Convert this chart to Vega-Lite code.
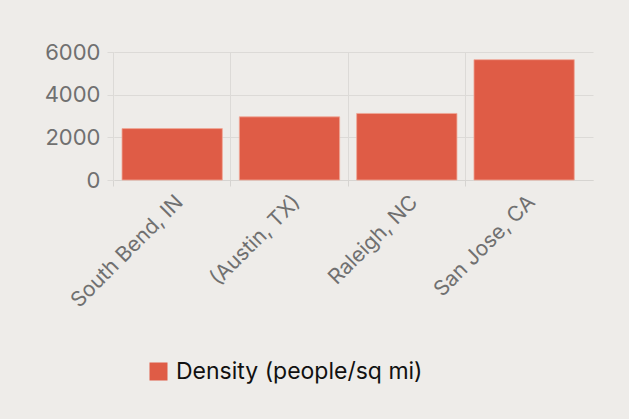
{
  "$schema": "https://vega.github.io/schema/vega-lite/v6.json",
  "autosize": "none",
  "width": 479,
  "height": 128,
  "padding": {"left": 114, "top": 52, "right": 36, "bottom": 239},
  "background": "#eeece9",
  "data": {"values": [
    {"city": "South Bend, IN", "density": 2410},
    {"city": "(Austin, TX)", "density": 2960},
    {"city": "Raleigh, NC", "density": 3120},
    {"city": "San Jose, CA", "density": 5640}
  ]},
  "mark": {"type": "bar", "color": "#df5c46", "stroke": "#f0a898", "strokeWidth": 0.8},
  "encoding": {
    "x": {
      "field": "city", "type": "nominal", "sort": null, "title": null,
      "scale": {"paddingInner": 0.145, "paddingOuter": 0.114, "align": 0.3},
      "axis": {"labelAngle": -45, "labelFontSize": 21, "labelColor": "#707070", "labelFont": "Inter",
        "bandPosition": -0.085, "grid": true, "gridColor": "#dcdad7", "tickColor": "#d6d4d1", "tickSize": 6,
        "domainColor": "#d6d4d1", "labelPadding": 5, "labelLimit": 0}
    },
    "y": {
      "field": "density", "type": "quantitative", "title": null,
      "scale": {"domain": [0, 6000]},
      "axis": {"values": [0, 2000, 4000, 6000], "format": "d", "labelFontSize": 22, "labelColor": "#707070", "labelFont": "Inter",
        "domain": false, "gridColor": "#dcdad7", "tickColor": "#dcdad7", "tickSize": 7, "labelPadding": 7}
    },
    "fill": {
      "datum": "Density (people/sq mi)", "type": "nominal",
      "scale": {"range": ["#df5c46"]},
      "legend": {"title": null, "orient": "none", "legendX": 33, "legendY": 308, "symbolType": "square",
        "symbolSize": 324, "labelFontSize": 23, "labelColor": "#111111", "labelFont": "Inter", "labelOffset": 6,
        "symbolStrokeWidth": 0, "labelLimit": 0}
    }
  },
  "config": {"view": {"stroke": null}}
}
